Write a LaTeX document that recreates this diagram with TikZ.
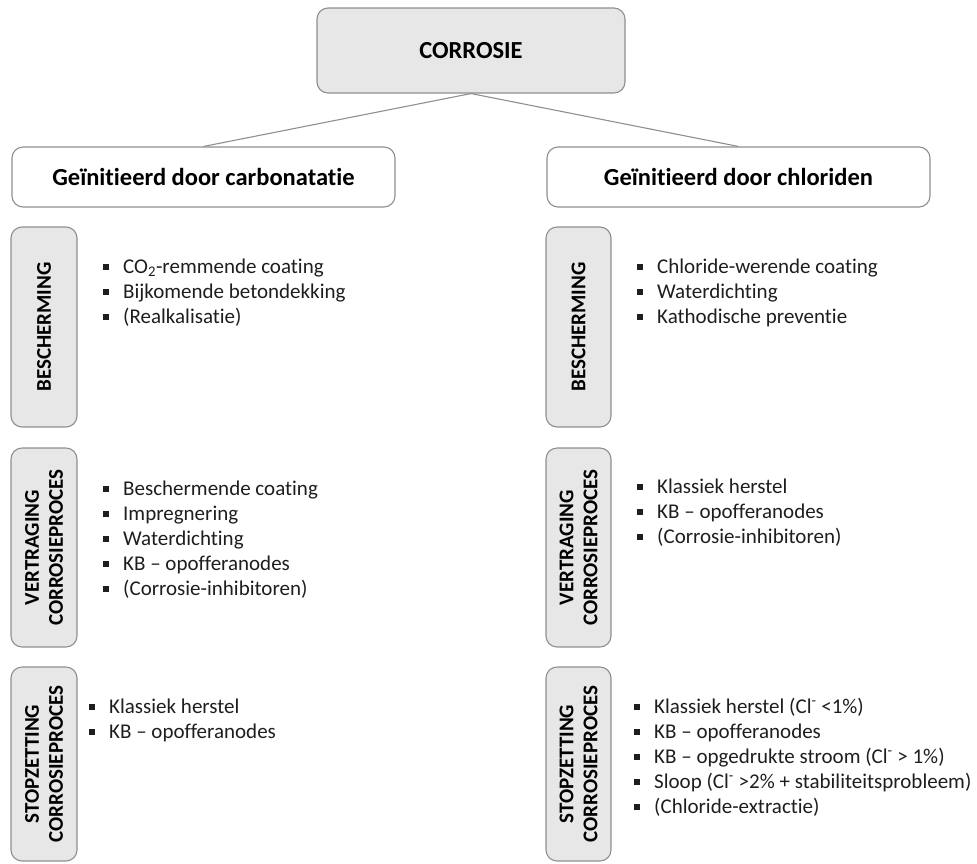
\documentclass[tikz,border=0pt]{standalone}
\usepackage{fontspec}
\setmainfont{Carlito}[Ligatures=NoCommon]
\begin{document}
\begin{tikzpicture}[x=1pt,y=-1pt,
  greybox/.style={draw=boxline, fill=boxfill, rounded corners=11pt, line width=1.1pt, inner sep=0pt},
  whitebox/.style={draw=boxline, fill=white, rounded corners=11pt, line width=1.1pt, inner sep=0pt},
  sidelabel/.style={rotate=90, align=center, font=\fontsize{21}{24}\selectfont\bfseries, text=black},
  itemlist/.style={anchor=west, align=left, inner sep=0pt, text=itemtext, font=\fontsize{21}{25}\selectfont},
  link/.style={draw=boxline, line width=1.1pt}]
\definecolor{boxfill}{HTML}{E7E7E7}
\definecolor{boxline}{HTML}{8F8F8F}
\definecolor{itemtext}{HTML}{1E1E1E}
\newcommand\sqb{\makebox[20pt][l]{\raisebox{3.5pt}{\rule{6pt}{6pt}}}}
\useasboundingbox (0,0) rectangle (977,863);

% top level
\node[greybox, minimum width=308pt, minimum height=85pt, font=\fontsize{24.5}{28}\selectfont\bfseries] (top) at (471,50.5) {CORROSIE};

% two branches
\node[whitebox, minimum width=383pt, minimum height=60pt, font=\fontsize{24.5}{28}\selectfont\bfseries] (carb) at (203.5,177) {Geïnitieerd door carbonatatie};
\node[whitebox, minimum width=383pt, minimum height=60pt, font=\fontsize{24.5}{28}\selectfont\bfseries] (chlor) at (738.5,177) {Geïnitieerd door chloriden};

\draw[link] (top.south) -- (carb.north);
\draw[link] (top.south) -- (chlor.north);

% side labels, left column
\node[greybox, minimum width=66pt, minimum height=200pt] (lb) at (44,327) {};
\node[sidelabel] (lbt) at (lb.center) {BESCHERMING};
\node[greybox, minimum width=66pt, minimum height=199pt] (lv) at (44,547.5) {};
\node[sidelabel] (lvt) at (lv.center) {VERTRAGING\\CORROSIEPROCES};
\node[greybox, minimum width=66pt, minimum height=194pt] (ls) at (44,764) {};
\node[sidelabel] (lst) at (ls.center) {STOPZETTING\\CORROSIEPROCES};

% side labels, right column
\node[greybox, minimum width=65pt, minimum height=200pt] (rb) at (578.5,327) {};
\node[sidelabel] (rbt) at (rb.center) {BESCHERMING};
\node[greybox, minimum width=65pt, minimum height=199pt] (rv) at (578.5,547.5) {};
\node[sidelabel] (rvt) at (rv.center) {VERTRAGING\\CORROSIEPROCES};
\node[greybox, minimum width=65pt, minimum height=194pt] (rs) at (578.5,764) {};
\node[sidelabel] (rst) at (rs.center) {STOPZETTING\\CORROSIEPROCES};

% measures, carbonation
\node[itemlist] (lbi) at (103,293) {\sqb CO\textsubscript{2}-remmende coating\\ \sqb Bijkomende betondekking\\ \sqb (Realkalisatie)};
\node[itemlist] (lvi) at (103,540) {\sqb Beschermende coating\\ \sqb Impregnering\\ \sqb Waterdichting\\ \sqb KB – opofferanodes\\ \sqb (Corrosie-inhibitoren)};
\node[itemlist] (lsi) at (89,720.5) {\sqb Klassiek herstel\\ \sqb KB – opofferanodes};

% measures, chlorides
\node[itemlist] (rbi) at (637,293) {\sqb Chloride-werende coating\\ \sqb Waterdichting\\ \sqb Kathodische preventie};
\node[itemlist] (rvi) at (637,513) {\sqb Klassiek herstel\\ \sqb KB – opofferanodes\\ \sqb (Corrosie-inhibitoren)};
\node[itemlist] (rsi) at (634,757) {\sqb Klassiek herstel (Cl\textsuperscript{-} <1\%)\\ \sqb KB – opofferanodes\\ \sqb KB – opgedrukte stroom (Cl\textsuperscript{-} > 1\%)\\ \sqb Sloop (Cl\textsuperscript{-} >2\% + stabiliteitsprobleem)\\ \sqb (Chloride-extractie)};
\end{tikzpicture}
\end{document}
